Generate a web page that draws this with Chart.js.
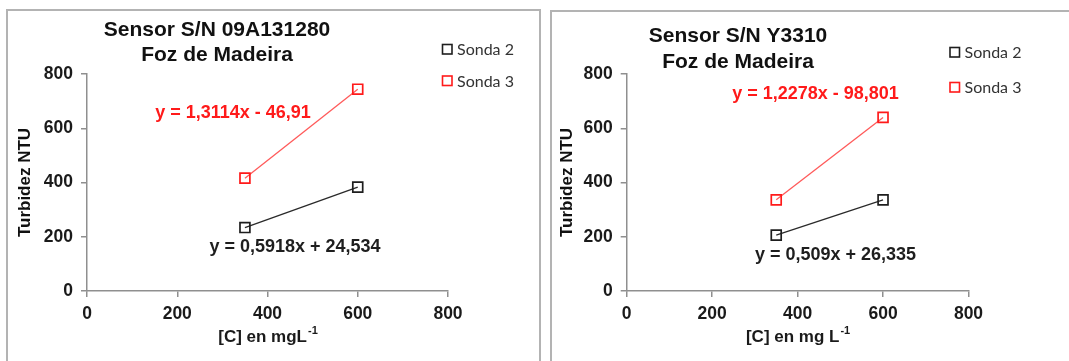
<!DOCTYPE html>
<html>
<head>
<meta charset="utf-8">
<script src="https://cdn.jsdelivr.net/npm/chart.js@4"></script>
<style>
  body { margin: 0; background: #fff; width: 1069px; height: 361px; overflow: hidden; position: relative; }
  .frame { position: absolute; box-sizing: border-box; border: 2px solid #b3b3b3; background: #fff; }
  #frameA { left: 6px; top: 9px; width: 535px; height: 400px; }
  #frameB { left: 550px; top: 10px; width: 560px; height: 400px; }
  canvas { position: absolute; top: 0; }
  #chartA { left: 0; }
  #chartB { left: 545px; }
</style>
</head>
<body>
<div class="frame" id="frameA"></div>
<div class="frame" id="frameB"></div>
<canvas id="chartA" width="545" height="361"></canvas>
<canvas id="chartB" width="524" height="361"></canvas>
<script>
// concentrations (mg/L) for both probes
var concentrations = [350, 600];
var axisTicks = [0, 200, 400, 600, 800];

// turbidity readings, sensor 09A131280
var sonda2_A = [234, 383];
var sonda3_A = [416, 744];
// turbidity readings, sensor Y3310
var sonda2_B = [206, 336];
var sonda3_B = [336, 640];

var seriesNames = ['Sonda 2', 'Sonda 3'];
var titles_A = ['Sensor S/N 09A131280', 'Foz de Madeira'];
var titles_B = ['Sensor S/N Y3310', 'Foz de Madeira'];
var equations_A = ['y = 0,5918x + 24,534', 'y = 1,3114x - 46,91'];
var equations_B = ['y = 0,509x + 26,335', 'y = 1,2278x - 98,801'];
var xTitle_A = ['[C] en mgL', '-1'];
var xTitle_B = ['[C] en mg L', '-1'];

var BLACK = '#1e1e1e';
var RED = '#ff1a1a';
var FONT = '"Liberation Sans", Arial, sans-serif';

function points(ys) {
  var out = [];
  for (let i = 0; i < concentrations.length; i++) {
    out.push({x: concentrations[i], y: ys[i]});
  }
  return out;
}

function series(name, ys, color, lineColor) {
  return {
    label: name,
    data: points(ys),
    showLine: true,
    borderColor: lineColor,
    borderWidth: 1.3,
    pointStyle: 'rect',
    pointRadius: 7,
    pointHoverRadius: 7,
    pointBorderWidth: 1.7,
    pointBorderColor: color,
    pointBackgroundColor: 'rgba(0,0,0,0)'
  };
}

// titles, legend, equations and the x title with its superscript
var panelText = {
  id: 'panelText',
  afterDraw: function (chart, args, o) {
    var ctx = chart.ctx;
    ctx.save();
    ctx.textBaseline = 'middle';

    ctx.fillStyle = '#111';
    ctx.textAlign = 'center';
    ctx.font = 'bold 21px ' + FONT;
    for (let i = 0; i < o.titles.length; i++) {
      ctx.fillText(o.titles[i], o.titleX, o.titleY[i]);
    }

    // legend
    var colors = [BLACK, RED];
    ctx.textAlign = 'left';
    ctx.font = '16px Lato, "Open Sans", sans-serif';
    for (let i = 0; i < seriesNames.length; i++) {
      var ly = o.legendY[i];
      ctx.strokeStyle = colors[i];
      ctx.lineWidth = 1.6;
      ctx.strokeRect(o.legendX - 4.5, ly - 4.5, 9.5, 9.5);
      ctx.fillStyle = '#333';
      ctx.fillText(seriesNames[i], o.legendX + 10, ly + 1);
    }

    // trend line equations
    ctx.textAlign = 'center';
    ctx.font = 'bold 18px ' + FONT;
    for (let i = 0; i < o.equations.length; i++) {
      ctx.fillStyle = colors[i];
      ctx.fillText(o.equations[i], o.eqPos[i][0], o.eqPos[i][1]);
    }

    // x axis title with superscript
    ctx.fillStyle = '#1a1a1a';
    ctx.textAlign = 'left';
    ctx.font = 'bold 17px ' + FONT;
    var w1 = ctx.measureText(o.xTitle[0]).width;
    ctx.font = 'bold 11px ' + FONT;
    var w2 = ctx.measureText(o.xTitle[1]).width;
    var area = chart.chartArea;
    var sx = (area.left + area.right) / 2 - (w1 + w2) / 2;
    ctx.font = 'bold 17px ' + FONT;
    ctx.fillText(o.xTitle[0], sx, o.xTitleY);
    ctx.font = 'bold 11px ' + FONT;
    ctx.fillText(o.xTitle[1], sx + w1 + 1, o.xTitleY - 6);
    ctx.restore();
  }
};

function makeChart(id, s2, s3, padRight, yWidth, yTitlePad, text) {
  var axisColor = '#8f8f8f';
  var tickFont = {family: FONT, size: 17.5, weight: 'bold'};
  return new Chart(id, {
    type: 'scatter',
    data: {
      datasets: [
        series(seriesNames[0], s2, BLACK, '#2a2a2a'),
        series(seriesNames[1], s3, RED, '#ff5a5a')
      ]
    },
    options: {
      responsive: false,
      animation: false,
      layout: {padding: {left: 0, top: 74, right: padRight, bottom: 0}},
      plugins: {
        legend: {display: false},
        tooltip: {enabled: false},
        panelText: text
      },
      scales: {
        x: {
          type: 'linear',
          min: 0,
          max: 800,
          afterBuildTicks: function (axis) {
            axis.ticks = axisTicks.map(v => ({value: v}));
          },
          ticks: {font: tickFont, color: '#1a1a1a', padding: 7},
          grid: {drawOnChartArea: false, drawTicks: true, tickLength: 6, color: axisColor, lineWidth: 1.5},
          border: {display: true, color: axisColor, width: 1.5},
          afterFit: function (axis) { axis.height = 70; }
        },
        y: {
          type: 'linear',
          min: 0,
          max: 800,
          afterBuildTicks: function (axis) {
            axis.ticks = axisTicks.map(v => ({value: v}));
          },
          ticks: {font: tickFont, color: '#1a1a1a', padding: 8},
          grid: {drawOnChartArea: false, drawTicks: true, tickLength: 6, color: axisColor, lineWidth: 1.5},
          border: {display: true, color: axisColor, width: 1.5},
          title: {
            display: true,
            text: 'Turbidez NTU',
            color: '#111',
            font: {family: FONT, size: 17, weight: 'bold'},
            padding: {top: yTitlePad, bottom: 0}
          },
          afterFit: function (axis) { axis.width = yWidth; }
        }
      }
    },
    plugins: [panelText]
  });
}

makeChart('chartA', sonda2_A, sonda3_A, 97, 87, 15.5, {
  titles: titles_A, titleX: 217, titleY: [30, 55],
  legendX: 447, legendY: [49, 80.5],
  equations: equations_A, eqPos: [[295, 247], [233, 113]],
  xTitle: xTitle_A, xTitleY: 337
});

makeChart('chartB', sonda2_B, sonda3_B, 100.5, 81.7, 12, {
  titles: titles_B, titleX: 193, titleY: [36, 62],
  legendX: 409.5, legendY: [52, 87],
  equations: equations_B, eqPos: [[290.5, 255], [270.5, 94]],
  xTitle: xTitle_B, xTitleY: 337
});
</script>
</body>
</html>
